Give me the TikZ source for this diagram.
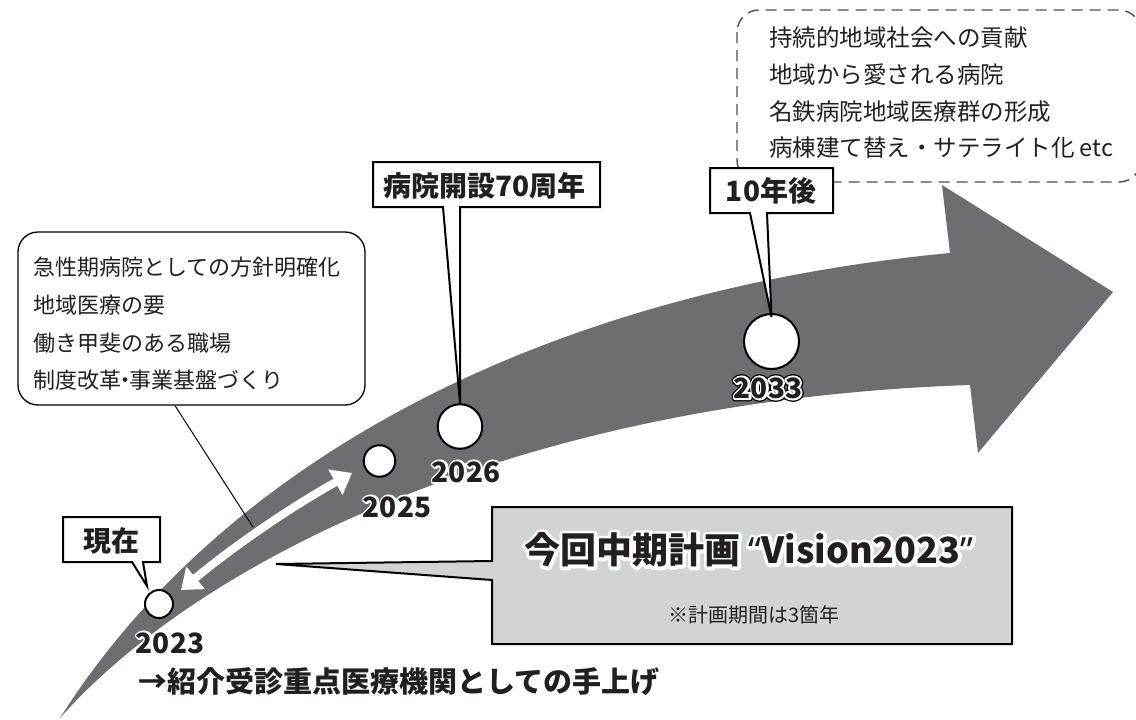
\documentclass[tikz,border=0pt]{standalone}
\usepackage{fontspec}
\setmainfont{Noto Sans CJK JP}
\newfontfamily\lat{Noto Sans}
\usetikzlibrary{arrows.meta}
\definecolor{arrowgray}{HTML}{6D6E71}
\definecolor{boxgray}{HTML}{D1D3D4}
\definecolor{ink}{HTML}{231F20}
\definecolor{dashgray}{HTML}{4D4D4F}
% stroked outline copy of a text (PDF text render mode 1), used as a halo
\newcommand\strk[3]{\rlap{\special{pdf:code q #1 RG 1 Tr #2 w 1 j 1 J}#3\special{pdf:code Q}}}
\newcommand\halotext[2]{\strk{1 1 1}{#1}{#2}#2}
\newcommand\halotextB[2]{\strk{0 0 0}{6.6}{#2}\strk{1 1 1}{#1}{#2}#2}
\begin{document}
\begin{tikzpicture}[x=1pt,y=-1pt,
  txt/.style={inner sep=0pt, text=ink},
  bigtxt/.style={inner sep=0pt, text=ink, font=\bfseries\fontsize{28}{28}\selectfont},
  dashtxt/.style={inner sep=0pt, text=ink, anchor=west, font=\fontsize{23.5}{23.5}\selectfont},
  boxtxt/.style={inner sep=0pt, text=ink, anchor=west, font=\fontsize{22}{22}\selectfont},
  yeartxt/.style={inner sep=0pt, text=ink, font=\bfseries\fontsize{28}{28}\selectfont},
  yrcircle/.style={circle, draw=black, line width=2pt, fill=white, inner sep=0pt},
  callout/.style={draw=black, fill=white, line width=2pt, line join=miter},
  dashbox/.style={draw=dashgray, line width=1.4pt, dash pattern=on 11pt off 7pt, rounded corners=22pt},
  leader/.style={draw=black, line width=1pt},
  twoway/.style={draw=white, line width=8pt, {Triangle[length=19pt,width=28pt]}-{Triangle[length=19pt,width=28pt]}}
]
\useasboundingbox (0,0) rectangle (1136,720);
\clip (0,0) rectangle (1136,720);

% dashed box with future goals
\draw[dashbox] (737,10) rectangle (1141,182);
\node[dashtxt] (f1) at (769,38) {持続的地域社会への貢献};
\node[dashtxt] (f2) at (769,75) {地域から愛される病院};
\node[dashtxt] (f3) at (769,112) {名鉄病院地域医療群の形成};
\node[dashtxt] (f4) at (769,148) {病棟建て替え・サテライト化 etc};

% big curved arrow
\fill[arrowgray] (60,718) .. controls (230,450) and (560,290) .. (950,253)
  -- (942,185) -- (1113,292) -- (978,453) -- (970,385)
  .. controls (520,400) and (200,560) .. (60,718) -- cycle;

% left rounded box
\node[draw=black, line width=1.3pt, fill=white, rounded corners=20pt,
      minimum width=347pt, minimum height=173pt, inner sep=0pt] (lbox) at (191.5,318.5) {};
\node[boxtxt] (l1) at (33,267) {急性期病院としての方針明確化};
\node[boxtxt] (l2) at (33,305) {地域医療の要};
\node[boxtxt] (l3) at (33,343) {働き甲斐のある職場};
\node[boxtxt] (l4) at (33,380) {制度改革{\kern-0.3em}・{\kern-0.3em}事業基盤づくり};
\coordinate (leadend) at (253,527);
\draw[leader] ([xshift=-16.5pt]lbox.south) -- (leadend);

% white two-way arrow
\coordinate (da) at (181,590);
\coordinate (db) at (352,473);
\draw[twoway] (da) .. controls (234,546) and (291,507) .. (db);

% year circles
\node[yrcircle, minimum size=28pt] (y2023) at (159,604) {};
\node[yrcircle, minimum size=31.5pt] (y2025) at (379.5,461) {};
\node[yrcircle, minimum size=44.5pt] (y2026) at (460,426.5) {};
\node[yrcircle, minimum size=55pt] (y2033) at (771.5,341.5) {};

% year labels
\node[yeartxt] (t2023) at (170,643) {\halotext{4}{2023}};
\node[yeartxt] (t2025) at (397,507) {\halotext{4}{2025}};
\node[yeartxt] (t2026) at (466,472) {\halotext{4}{2026}};
\node[yeartxt] (t2033) at (768,388) {\halotextB{4}{2033}};

% callout 70th anniversary
\draw[callout] (373,162) -- (600,162) -- (600,207) -- (460,207) -- (y2026.north) -- (443,207) -- (373,207) -- cycle;
\node[bigtxt] (c70) at (484.5,185.5) {病院開設70周年};

% callout 10 years later
\draw[callout] (710,168) -- (833,168) -- (833,213) -- (767,213) -- ([yshift=-4pt]y2033.north) -- (750,213) -- (710,213) -- cycle;
\node[bigtxt] (c10) at (771,190.5) {10年後};

% callout now
\draw[callout] (63,517) -- (160,517) -- (160,562) -- (143,562) -- (147,586) -- (132,562) -- (63,562) -- cycle;
\node[bigtxt] (cnow) at (111.5,540.5) {現在};

% gray plan box
\coordinate (ptip) at (276,564);
\draw[fill=boxgray, draw=black, line width=2pt, line join=miter]
  (492,507) -- (1012,507) -- (1012,644) -- (492,644) -- (492,580) -- (ptip) -- (492,561) -- cycle;
\node[txt, font=\bfseries\fontsize{36}{36}\selectfont] (title) at (749,550)
  {\halotext{6.4}{今回中期計画 {\lat “}Vision2023{\lat ”}}};
\node[txt, font=\fontsize{20}{20}\selectfont] (sub) at (754,615) {※計画期間は3箇年};

% bottom note
\node[txt, anchor=west, font=\bfseries\fontsize{29}{29}\selectfont] (note) at (138,682) {→紹介受診重点医療機関としての手上げ};
\end{tikzpicture}
\end{document}
